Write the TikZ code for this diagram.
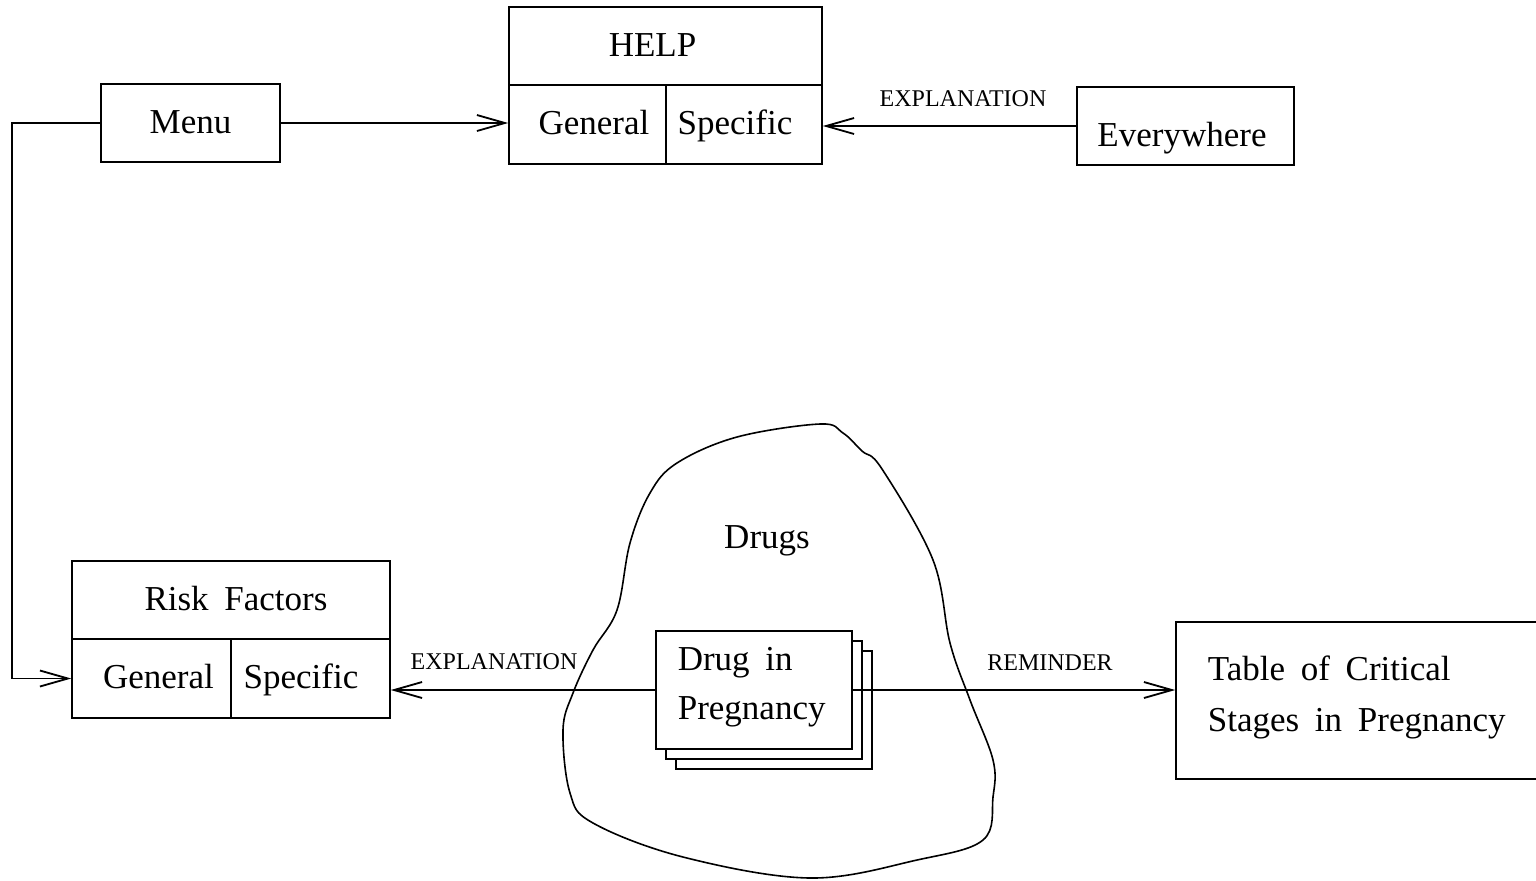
\documentclass[tikz,border=0pt]{standalone}
\usepackage{fontspec}
\setmainfont{Liberation Serif}[WordSpace=1.8]
\usetikzlibrary{arrows.meta}
\begin{document}
\begin{tikzpicture}[x=0.5pt,y=-0.5pt,
  box/.style={draw,line width=0.8pt,inner sep=0pt,text height=13pt,text depth=3pt,font=\fontsize{17.5}{20}\selectfont},
  lbl/.style={font=\fontsize{12}{14}\selectfont,inner sep=0pt},
  conn/.style={line width=0.9pt},
  arr/.style={conn,-{Straight Barb[length=14pt,width=8pt,line width=0.9pt]}}]
\useasboundingbox (0,0) rectangle (1536,880);
% HELP box
\node[box,minimum width=156.5pt,minimum height=39pt] (helptop) at (665.5,46) {HELP\hspace*{13pt}};
\node[box,minimum width=78.5pt,minimum height=39.5pt] (helpgen) at (587.5,124.5) {\hspace*{6.5pt}General};
\node[box,minimum width=78pt,minimum height=39.5pt] (helpspec) at (744,124.5) {Specific\hspace*{9pt}};
% Menu
\node[box,minimum width=89.5pt,minimum height=39pt] (menu) at (190.5,123) {Menu};
% Everywhere
\node[box,minimum width=108.5pt,minimum height=39pt,text height=23pt] (every) at (1185.5,126) {Everywhere\hspace*{3.5pt}};
% Risk factors
\node[box,minimum width=159pt,minimum height=39pt] (risktop) at (231,600) {\hspace*{5pt}Risk Factors};
\node[box,minimum width=79.5pt,minimum height=39.5pt] (riskgen) at (151.5,678.5) {\hspace*{7pt}General};
\node[box,minimum width=79.5pt,minimum height=39.5pt] (riskspec) at (310.5,678.5) {Specific\hspace*{9.5pt}};
% Drugs blob
\draw[line width=0.8pt] plot[smooth cycle,tension=0.6] coordinates {
 (820,424) (737,437) (677,463) (650,493) (630,543) (617,610) (593,650) (573,693)
 (563,730) (570,793) (593,823) (683,857) (810,878) (917,860) (983,840) (993,797)
 (993,760) (970,700) (950,643) (933,560) (882,469) (862,451) (843,433)};
\node[box,draw=none] (drugs) at (767,538) {Drugs};
% Drug in pregnancy stacked
\node[box,fill=white,minimum width=98pt,minimum height=59pt] (drug2) at (774,710) {};
\node[box,fill=white,minimum width=98pt,minimum height=59pt] (drug1) at (764,700) {};
\node[box,fill=white,minimum width=98pt,minimum height=59pt] (drug) at (754,690) {};
\node[box,draw=none,anchor=west,align=left,text height=,text depth=,font=\fontsize{17.5}{24.5}\selectfont] (drugtxt) at (677,687) {Drug in\\Pregnancy};
% Table
\node[box,minimum width=192pt,minimum height=78.5pt] (table) at (1368,700.5) {};
\node[box,draw=none,anchor=west,align=left,text height=,text depth=,font=\fontsize{17.5}{25.5}\selectfont] (tabletxt) at (1207,697.5) {Table of Critical\\Stages in Pregnancy};
% connectors
\draw[arr] (menu.east) -- (menu.east -| helpgen.west);
\draw[arr] (every.west) -- (every.west -| helpspec.east);
\draw[arr] (menu.west) -- (12,123) |- (riskgen.west);
\draw[arr] (drug.west) -- (drug.west -| riskspec.east);
\draw[arr] (drug.east) -- (drug.east -| table.west);
% labels
\node[lbl] (l1) at (963,99) {EXPLANATION};
\node[lbl] (l2) at (494,662) {EXPLANATION};
\node[lbl] (l3) at (1050,663) {REMINDER};
\end{tikzpicture}
\end{document}
